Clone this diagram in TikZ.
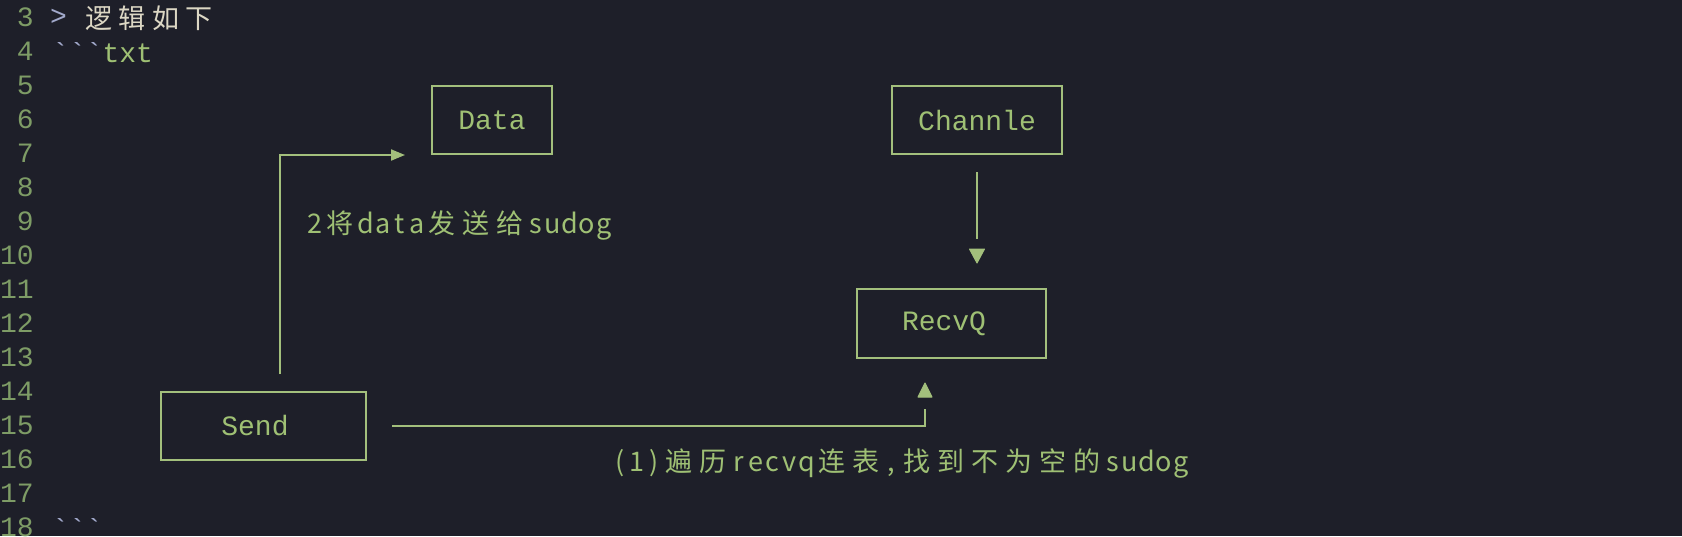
\documentclass[tikz,border=0pt]{standalone}
\usepackage{fontspec}
\setmonofont{Liberation Mono}
\newfontfamily\cjk{Noto Sans CJK SC}
\usetikzlibrary{arrows.meta}
\definecolor{bgc}{HTML}{1E1F29}
\definecolor{grn}{HTML}{9FC074}
\definecolor{boxc}{HTML}{A3BF7C}
\definecolor{lnum}{HTML}{7E9C66}
\definecolor{bluec}{HTML}{A2A9CB}
\definecolor{beige}{HTML}{DCD7C4}
\newcommand{\cc}[1]{\makebox[33.5pt]{#1}}
\newcommand{\lt}[1]{\makebox[17pt]{#1}}
\newcommand{\ct}[1]{\makebox[34pt]{#1}}
\tikzset{
  mono/.style={font=\ttfamily\fontsize{28}{30}\selectfont},
  lnumstyle/.style={mono, text=lnum, anchor=east, inner sep=0pt},
  box/.style={draw=boxc, line width=2pt, mono, text=grn, inner sep=0pt},
  conn/.style={draw=boxc, line width=2pt},
  tipa/.style={-{Triangle[length=14pt,width=11pt]}},
  headonly/.style={draw=boxc, fill=boxc, line width=1pt, line join=round},
  lbl/.style={text=grn, inner sep=0pt, font=\cjk\fontsize{27}{30}\selectfont},
}
\begin{document}
\begin{tikzpicture}[x=1pt,y=-1pt]
\fill[bgc] (0,0) rectangle (1682,536);
\useasboundingbox (0,0) rectangle (1682,536);
\clip (0,0) rectangle (1682,536);
% line numbers
\foreach \n [count=\i from 0] in {3,...,18}{
  \node[lnumstyle] (ln\n) at (34, 17+34*\i) {\n};
}
% header lines
\node[mono, text=bluec, anchor=west, inner sep=0pt] (gt) at (50,17) {>};
\node[font=\cjk\fontsize{27}{30}\selectfont, text=beige, anchor=west, inner sep=0pt] (title) at (82,18) {\cc{逻}\cc{辑}\cc{如}\cc{下}};
\node[mono, anchor=west, inner sep=0pt] (fence1) at (52,53) {\textcolor{bluec}{```}\textcolor{grn}{txt}};
\node[mono, text=bluec, anchor=west, inner sep=0pt] (fence2) at (52,529) {```};
% boxes
\node[box, minimum width=120pt, minimum height=68pt] (data) at (492,120) {Data};
\node[box, minimum width=170pt, minimum height=68pt] (chan) at (977,120) {Channle};
\node[box, minimum width=189pt, minimum height=69pt] (recvq) at (951.5,323.5) {RecvQ\kern15pt};
\node[box, minimum width=205pt, minimum height=68pt] (send) at (263.5,426) {Send\kern17pt};
% labels
\node[lbl, anchor=west] (lab2) at (306,225) {\lt{2}\ct{将}\lt{d}\lt{a}\lt{t}\lt{a}\ct{发}\ct{送}\ct{给}\lt{s}\lt{u}\lt{d}\lt{o}\lt{g}};
\node[lbl, anchor=west] (lab1) at (611,463) {\lt{(}\lt{1}\lt{)}\ct{遍}\ct{历}\lt{r}\lt{e}\lt{c}\lt{v}\lt{q}\ct{连}\ct{表}\lt{,}\ct{找}\ct{到}\ct{不}\ct{为}\ct{空}\ct{的}\lt{s}\lt{u}\lt{d}\lt{o}\lt{g}};
% connectors
\coordinate (s1) at (280,374);
\coordinate (s2) at (280,155);
\coordinate (s3) at (405,155);
\draw[conn, tipa] (s1) -- (s2) -- (s3);
\coordinate (c1) at (977,172);
\coordinate (c2) at (977,239);
\coordinate (c3) at (977,249);
\coordinate (c4) at (977,263);
\draw[conn] (c1) -- (c2);
\draw[headonly] (c4) -- ([xshift=-7.5pt]c3) -- ([xshift=7.5pt]c3) -- cycle;
\coordinate (r1) at (392,426);
\coordinate (r2) at (925,426);
\coordinate (r3) at (925,409);
\coordinate (r4) at (925,397);
\coordinate (r5) at (925,383);
\draw[conn] (r1) -- (r2) -- (r3);
\draw[headonly] (r5) -- ([xshift=-7pt]r4) -- ([xshift=7pt]r4) -- cycle;
\end{tikzpicture}
\end{document}
